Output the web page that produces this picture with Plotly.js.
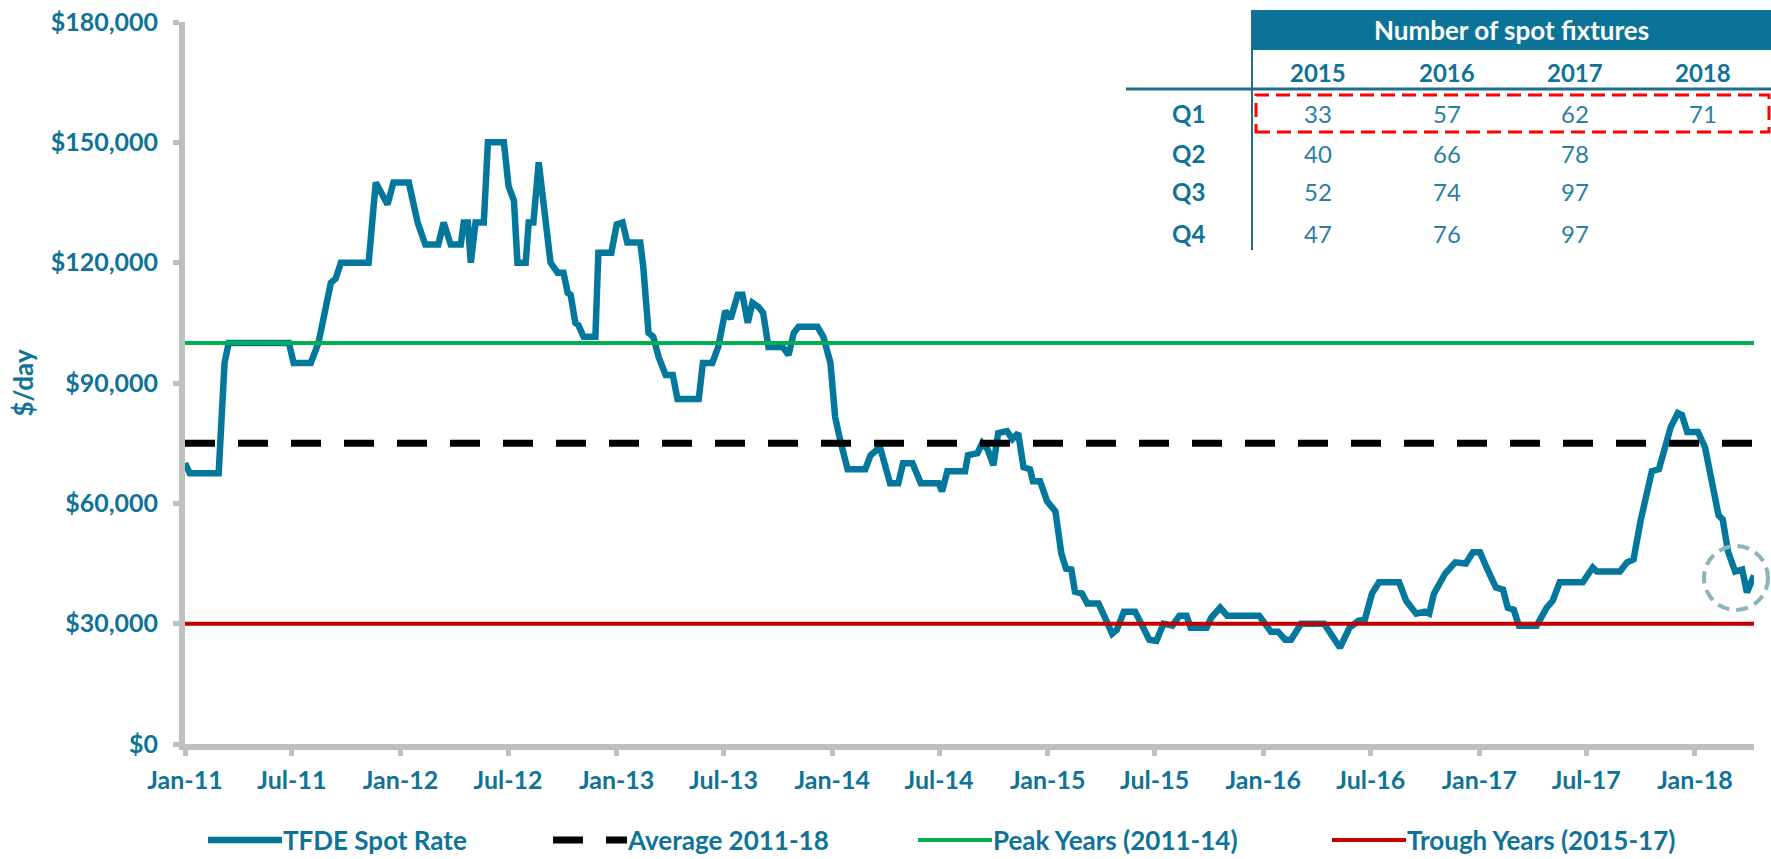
<!DOCTYPE html>
<html><head><meta charset="utf-8">
<script src="https://cdn.plot.ly/plotly-3.0.1.min.js"></script>
<style>html,body{margin:0;padding:0;background:#fff;}#chart{width:1771px;height:859px;}</style>
</head><body><div id="chart"></div>
<script>
// ---------- data ----------
const spotDates = [
'2011-01-01','2011-01-09','2011-02-27','2011-03-04','2011-03-09','2011-03-16','2011-06-26','2011-07-04','2011-08-02','2011-08-15',
'2011-09-05','2011-09-13','2011-09-22','2011-11-08','2011-11-20','2011-12-10','2011-12-20','2012-01-15','2012-01-30','2012-02-12',
'2012-03-05','2012-03-14','2012-03-26','2012-04-12','2012-04-17','2012-04-24','2012-04-29','2012-05-07','2012-05-21','2012-05-28',
'2012-06-24','2012-07-02','2012-07-11','2012-07-17','2012-07-31','2012-08-05','2012-08-13','2012-08-22','2012-09-11','2012-09-23',
'2012-10-03','2012-10-10','2012-10-15','2012-10-23','2012-10-28','2012-11-06','2012-11-26','2012-12-01','2012-12-23','2013-01-01',
'2013-01-11','2013-01-19','2013-02-10','2013-02-15','2013-02-24','2013-03-04','2013-03-13','2013-03-25','2013-04-06','2013-04-14',
'2013-05-20','2013-05-27','2013-06-12','2013-06-22','2013-07-04','2013-07-13','2013-07-25','2013-08-02','2013-08-11','2013-08-19',
'2013-08-29','2013-09-06','2013-09-15','2013-10-09','2013-10-19','2013-10-28','2013-11-05','2013-12-07','2013-12-17','2013-12-29',
'2014-01-06','2014-01-15','2014-01-27','2014-02-26','2014-03-07','2014-03-23','2014-04-09','2014-04-23','2014-05-01','2014-05-17',
'2014-05-31','2014-06-30','2014-07-06','2014-07-15','2014-08-14','2014-08-19','2014-09-04','2014-09-12','2014-09-21','2014-10-01',
'2014-10-09','2014-10-24','2014-11-02','2014-11-12','2014-11-21','2014-12-02','2014-12-07','2014-12-19','2014-12-31','2015-01-14',
'2015-01-24','2015-02-01','2015-02-10','2015-02-16','2015-02-28','2015-03-09','2015-03-28','2015-04-08','2015-04-20','2015-04-28',
'2015-05-10','2015-05-29','2015-06-10','2015-06-22','2015-07-04','2015-07-16','2015-07-31','2015-08-12','2015-08-24','2015-08-31',
'2015-09-27','2015-10-05','2015-10-20','2015-11-01','2015-12-25','2016-01-14','2016-01-26','2016-02-07','2016-02-17','2016-03-05',
'2016-04-13','2016-04-25','2016-05-10','2016-05-26','2016-06-10','2016-06-21','2016-07-03','2016-07-15','2016-08-18','2016-08-30',
'2016-09-16','2016-10-01','2016-10-08','2016-10-16','2016-11-04','2016-11-21','2016-12-09','2016-12-21','2017-01-02','2017-01-14',
'2017-01-29','2017-02-10','2017-02-18','2017-02-28','2017-03-09','2017-04-08','2017-04-25','2017-05-05','2017-05-17','2017-06-25',
'2017-07-12','2017-07-19','2017-08-27','2017-09-08','2017-09-19','2017-10-01','2017-10-08','2017-10-20','2017-11-01','2017-11-13',
'2017-11-21','2017-12-03','2017-12-10','2017-12-19','2018-01-06','2018-01-18','2018-01-30','2018-02-10','2018-02-17','2018-02-26',
'2018-03-10','2018-03-22','2018-03-30','2018-04-11'];
const spotRates = [
70000,67500,67500,85000,95000,100000,100000,95000,95000,100000,
115000,116000,120000,120000,140000,134500,140000,140000,130000,124500,
124500,130000,124500,124500,130000,130000,120000,130000,130000,150000,
150000,139000,135500,120000,120000,130000,130000,145000,120000,117500,
117500,112500,112000,105000,104500,101500,101500,122500,122500,129500,
130000,125000,125000,119000,102500,101500,96500,92000,92000,86000,
86000,95000,95000,99000,108000,106000,112000,112000,105000,110000,
109000,107500,99000,99000,97000,102500,104000,104000,101500,95000,
81500,75500,68500,68500,72000,74000,65000,65000,70000,70000,
65000,65000,63000,68000,68000,72000,72500,75000,73500,69500,
77500,78000,76000,77500,69000,68500,65500,65500,60500,58000,
47500,43700,43500,38000,37500,35000,35000,31500,27500,28500,
33000,33000,29000,26000,25700,30000,29500,32000,32000,29000,
29000,31500,34000,32000,32000,28000,28000,26000,26000,30000,
30000,27000,24000,29000,30700,31000,37500,40300,40300,35700,
32500,33000,32500,37500,42500,45300,45000,47800,47800,43700,
39000,38500,34000,33500,29500,29500,34000,35700,40300,40300,
44000,43000,43000,45300,46000,55700,60700,68000,68500,75000,
79000,82500,82000,77800,77800,74000,65700,57000,56000,48000,
43000,43500,37800,42000];
const periodStart = '2011-01-01';
const periodEnd = '2018-04-11';
const averageRate = 75000;   // Average 2011-18
const peakRate = 100000;     // Peak Years (2011-14)
const troughRate = 30000;    // Trough Years (2015-17)
const seriesNames = ['TFDE Spot Rate','Average 2011-18','Peak Years (2011-14)','Trough Years (2015-17)'];
const tickDates = ['2011-01-01','2011-07-01','2012-01-01','2012-07-01','2013-01-01','2013-07-01','2014-01-01','2014-07-01',
  '2015-01-01','2015-07-01','2016-01-01','2016-07-01','2017-01-01','2017-07-01','2018-01-01'];
const tickLabels = ['Jan-11','Jul-11','Jan-12','Jul-12','Jan-13','Jul-13','Jan-14','Jul-14',
  'Jan-15','Jul-15','Jan-16','Jul-16','Jan-17','Jul-17','Jan-18'];
const tableTitle = 'Number of spot fixtures';
const fixtureYears = ['2015','2016','2017','2018'];
const fixtureQuarters = ['Q1','Q2','Q3','Q4'];
const fixtures2015 = [33,40,52,47];
const fixtures2016 = [57,66,74,76];
const fixtures2017 = [62,78,97,97];
const fixtures2018 = [71];

// ---------- styling / layout ----------
const TEAL = '#0f7397';
const FONT = 'Lato, "Noto Sans", "DejaVu Sans", sans-serif';
const L = 185, R = 1754, T = 22, B = 744;
const px = X => (X - L) / (R - L);
const py = Y => (B - Y) / (B - T);

const data = [
  {x: spotDates, y: spotRates, type: 'scatter', mode: 'lines', name: seriesNames[0],
   line: {color: '#04789c', width: 6.5}, legend: 'legend'},
  {x: [periodStart, periodEnd], y: [averageRate, averageRate], type: 'scatter', mode: 'lines', name: seriesNames[1],
   line: {color: '#000000', width: 7, dash: '30px,23px'}, legend: 'legend2'},
  {x: [periodStart, periodEnd], y: [peakRate, peakRate], type: 'scatter', mode: 'lines', name: seriesNames[2],
   line: {color: '#00b050', width: 4}, legend: 'legend3'},
  {x: [periodStart, periodEnd], y: [troughRate, troughRate], type: 'scatter', mode: 'lines', name: seriesNames[3],
   line: {color: '#c00000', width: 4}, legend: 'legend4'}
];

const legendFont = {family: FONT, size: 26, color: TEAL, weight: 'bold'};
function mkLegend(X) {
  return {x: px(X), y: py(840), xanchor: 'left', yanchor: 'middle', orientation: 'h',
    bgcolor: 'rgba(0,0,0,0)', borderwidth: 0, font: legendFont, itemwidth: 70};
}

const annotations = [];
const shapes = [];
// table header
shapes.push({type: 'rect', xref: 'paper', yref: 'paper', x0: px(1252), x1: px(1771), y0: py(50), y1: py(10),
  fillcolor: '#0a7397', line: {width: 0}, layer: 'above'});
annotations.push({xref: 'paper', yref: 'paper', x: px(1511), y: py(30), text: tableTitle, showarrow: false,
  xanchor: 'center', yanchor: 'middle', font: {family: FONT, size: 26, color: '#ffffff', weight: 'bold'}});
shapes.push({type: 'line', xref: 'paper', yref: 'paper', x0: px(1252), x1: px(1252), y0: py(10), y1: py(250),
  line: {color: '#1f6f8c', width: 2}});
shapes.push({type: 'line', xref: 'paper', yref: 'paper', x0: px(1126), x1: px(1771), y0: py(89), y1: py(89),
  line: {color: '#1f6f8c', width: 3}});
const colX = [1318, 1447, 1575, 1703];
const rowY = [113, 153, 192, 233];
const fixtureCols = [fixtures2015, fixtures2016, fixtures2017, fixtures2018];
fixtureYears.forEach((yr, i) => annotations.push({xref: 'paper', yref: 'paper', x: px(colX[i]), y: py(72), text: yr,
  showarrow: false, xanchor: 'center', yanchor: 'middle', font: {family: FONT, size: 24, color: TEAL, weight: 'bold'}}));
fixtureQuarters.forEach((q, j) => annotations.push({xref: 'paper', yref: 'paper', x: px(1188), y: py(rowY[j]), text: q,
  showarrow: false, xanchor: 'center', yanchor: 'middle', font: {family: FONT, size: 24, color: TEAL, weight: 'bold'}}));
fixtureCols.forEach((col, i) => col.forEach((v, j) => annotations.push({xref: 'paper', yref: 'paper',
  x: px(colX[i]), y: py(rowY[j]), text: String(v), showarrow: false, xanchor: 'center', yanchor: 'middle',
  font: {family: FONT, size: 24, color: '#2a7fa0', weight: 'normal'}})));
// red dashed highlight box around Q1
shapes.push({type: 'rect', xref: 'paper', yref: 'paper', x0: px(1256), x1: px(1769), y0: py(132), y1: py(95),
  line: {color: '#ff0000', width: 3, dash: '14px,7px'}});
// dashed circle around latest rate
shapes.push({type: 'circle', xref: 'paper', yref: 'paper', x0: px(1704), x1: px(1768), y0: py(610), y1: py(546),
  line: {color: '#8ab4ba', width: 4, dash: '12px,7px'}});

const layout = {
  width: 1771, height: 859,
  margin: {l: L, r: 1771 - R, t: T, b: 859 - B, pad: 0, autoexpand: false},
  paper_bgcolor: '#ffffff', plot_bgcolor: '#ffffff',
  font: {family: FONT, color: TEAL},
  xaxis: {type: 'date', range: [periodStart, periodEnd], tickvals: tickDates, ticktext: tickLabels,
    showgrid: false, zeroline: false, showline: true, linecolor: '#bfbfbf', linewidth: 6,
    ticks: 'outside', ticklen: 6, tickwidth: 5, tickcolor: '#bfbfbf', ticklabelstandoff: 3,
    tickfont: {family: FONT, size: 25, color: TEAL, weight: 'bold'}, fixedrange: true},
  yaxis: {range: [0, 180000], dtick: 30000, tick0: 0, tickformat: '$,.0f',
    showgrid: false, zeroline: false, showline: true, linecolor: '#bfbfbf', linewidth: 6,
    ticks: 'outside', ticklen: 6, tickwidth: 5, tickcolor: '#bfbfbf', ticklabelstandoff: 10,
    tickfont: {family: FONT, size: 25, color: TEAL, weight: 'bold'},
    title: {text: '$/day', font: {family: FONT, size: 26, color: TEAL, weight: 'bold'}, standoff: 12}, fixedrange: true},
  showlegend: true,
  legend: mkLegend(203), legend2: mkLegend(548), legend3: mkLegend(913), legend4: mkLegend(1327),
  annotations: annotations, shapes: shapes
};

Plotly.newPlot('chart', data, layout, {displayModeBar: false, staticPlot: true}).then(gd => {
  gd.querySelectorAll('.legendlines path').forEach(p => p.setAttribute('d', 'M5,0h74'));
});
</script></body></html>
